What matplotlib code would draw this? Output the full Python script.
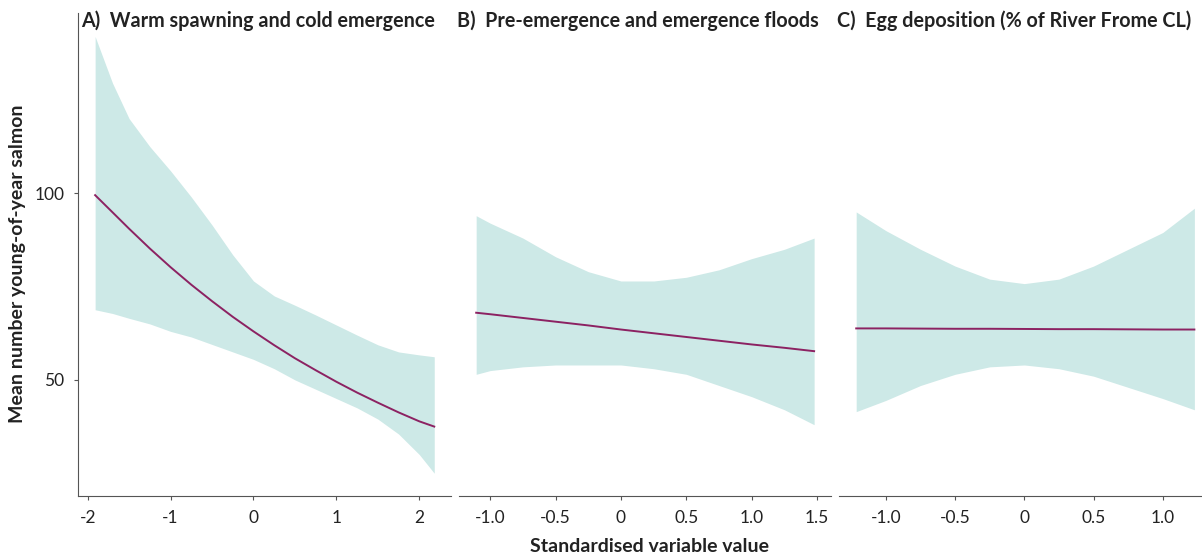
import numpy as np
import matplotlib.pyplot as plt

plt.rcParams['font.family'] = ['Lato', 'DejaVu Sans']

# ---- data ----
# A) warm spawning and cold emergence
a_x = [-1.91, -1.7, -1.5, -1.25, -1.0, -0.75, -0.5, -0.25, 0.0, 0.25, 0.5, 0.75, 1.0, 1.25, 1.5, 1.75, 2.0, 2.18]
a_fit = [99.5, 94.9, 90.5, 85.2, 80.2, 75.5, 71.1, 66.9, 63.0, 59.3, 55.8, 52.6, 49.5, 46.6, 43.9, 41.3, 38.9, 37.5]
a_hi = [142.0, 129.5, 120.0, 112.5, 106.0, 99.0, 91.5, 83.5, 76.5, 72.5, 70.0, 67.4, 64.7, 62.0, 59.4, 57.5, 56.7, 56.2]
a_lo = [68.8, 67.8, 66.5, 65.0, 63.0, 61.5, 59.5, 57.5, 55.5, 53.0, 50.0, 47.5, 45.0, 42.5, 39.5, 35.5, 30.0, 25.0]

# B) pre-emergence and emergence floods
b_x = [-1.107, -1.0, -0.75, -0.5, -0.25, 0.0, 0.25, 0.5, 0.75, 1.0, 1.25, 1.477]
b_fit = [68.0, 67.6, 66.6, 65.6, 64.6, 63.5, 62.5, 61.5, 60.5, 59.5, 58.6, 57.7]
b_hi = [94.0, 92.0, 88.0, 83.0, 79.0, 76.5, 76.5, 77.5, 79.5, 82.5, 85.0, 88.0]
b_lo = [51.5, 52.5, 53.5, 54.0, 54.0, 54.0, 53.0, 51.5, 48.5, 45.5, 42.0, 38.0]

# C) egg deposition
c_x = [-1.214, -1.0, -0.75, -0.5, -0.25, 0.0, 0.25, 0.5, 0.75, 1.0, 1.228]
c_fit = [63.8, 63.8, 63.75, 63.7, 63.7, 63.65, 63.6, 63.6, 63.55, 63.5, 63.5]
c_hi = [95.0, 90.0, 85.0, 80.5, 77.0, 75.8, 77.0, 80.5, 85.0, 89.5, 96.0]
c_lo = [41.5, 44.5, 48.5, 51.5, 53.5, 54.0, 53.0, 51.0, 48.0, 45.0, 42.0]

titles = ["A)  Warm spawning and cold emergence",
          "B)  Pre-emergence and emergence floods",
          "C)  Egg deposition (% of River Frome CL)"]

a_ticks = [-2, -1, 0, 1, 2]
a_labels = ["-2", "-1", "0", "1", "2"]
b_ticks = [-1.0, -0.5, 0, 0.5, 1.0, 1.5]
b_labels = ["-1.0", "-0.5", "0", "0.5", "1.0", "1.5"]
c_ticks = [-1.0, -0.5, 0, 0.5, 1.0]
c_labels = ["-1.0", "-0.5", "0", "0.5", "1.0"]

band_col = "#cde9e7"
line_col = "#8c2262"
spine_col = "#555555"
text_col = "#222222"

W, H = 1202, 556
fig = plt.figure(figsize=(W / 100, H / 100), dpi=100)


def add_ax(left, top, right, bottom):
    return fig.add_axes([left / W, 1 - bottom / H, (right - left) / W, (bottom - top) / H])


axA = add_ax(78.3, 13, 451, 496)
axB = add_ax(459.3, 13, 831, 496)
axC = add_ax(839.3, 13, 1202, 496)

panels = [
    (axA, a_x, a_fit, a_hi, a_lo, (-2.113, 2.382), a_ticks, a_labels),
    (axB, b_x, b_fit, b_hi, b_lo, (-1.236, 1.606), b_ticks, b_labels),
    (axC, c_x, c_fit, c_hi, c_lo, (-1.336, 1.283), c_ticks, c_labels),
]

for i, (ax, x, fit, hi, lo, xl, ticks, labels) in enumerate(panels):
    ax.fill_between(x, lo, hi, color=band_col, lw=0)
    ax.plot(x, fit, color=line_col, lw=1.4)
    ax.set_xlim(*xl)
    ax.set_ylim(18.9, 148.3)
    ax.set_xticks(ticks)
    ax.set_xticklabels(labels)
    for s in ["top", "right"]:
        ax.spines[s].set_visible(False)
    ax.spines["bottom"].set_color(spine_col)
    ax.spines["left"].set_color(spine_col)
    ax.tick_params(colors=spine_col, labelcolor=text_col, labelsize=12.5,
                   length=3, width=0.8, pad=7)
    if i > 0:
        ax.spines["left"].set_visible(False)
        ax.tick_params(axis="y", left=False, labelleft=False)
    ax.patch.set_alpha(0)

axA.set_yticks([50, 100])

tx = [81, 457, 837]
for t, x0 in zip(titles, tx):
    fig.text(x0 / W, 1 - 21 / H, t, ha="left", va="center", fontsize=14.2,
             fontweight="bold", color=text_col)

fig.text(18 / W, 1 - 264 / H, "Mean number young-of-year salmon", rotation=90,
         ha="center", va="center", fontsize=14, fontweight="bold", color=text_col)
fig.text(649 / W, 1 - 546 / H, "Standardised variable value", ha="center",
         va="center", fontsize=14, fontweight="bold", color=text_col)

fig.savefig("out.png", dpi=100)
